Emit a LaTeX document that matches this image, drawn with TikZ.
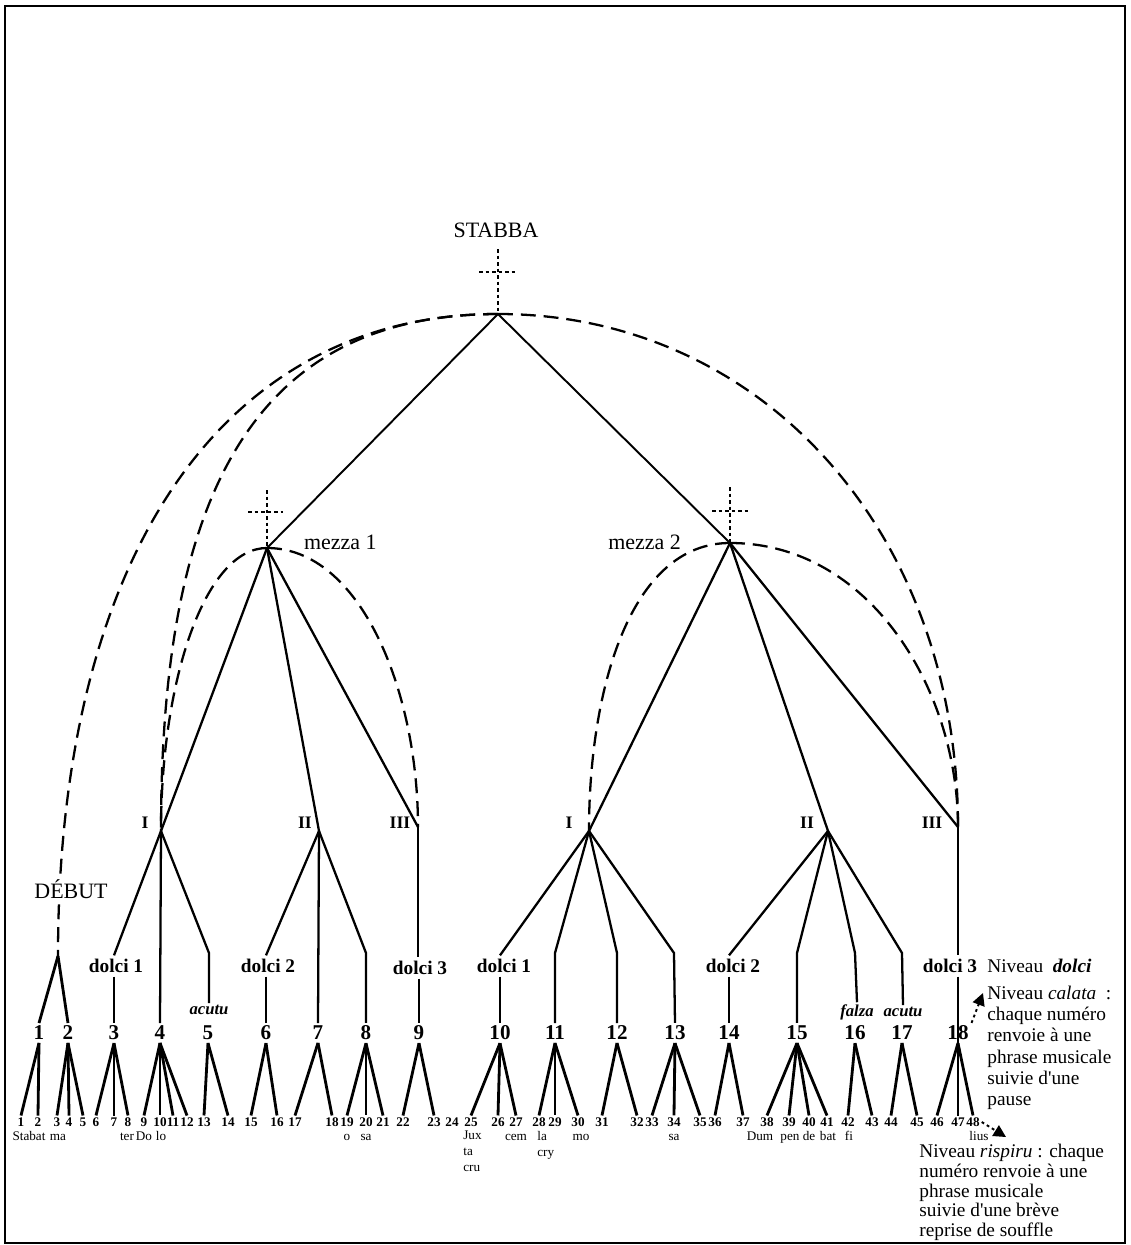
\documentclass[tikz,border=0pt]{standalone}
\usepackage{fontspec}
\setmainfont{Liberation Serif}
\usetikzlibrary{positioning,arrows.meta}
\tikzset{
  heading/.style={font=\fontsize{12.5}{14}\selectfont,inner sep=1pt},
  part/.style={font=\fontsize{10}{12}\selectfont\bfseries,inner sep=1pt},
  dolci/.style={font=\fontsize{11}{13}\selectfont\bfseries,inner sep=2pt},
  phrase/.style={font=\fontsize{12}{14}\selectfont\bfseries,inner sep=1.5pt},
  breath/.style={font=\fontsize{7.5}{8}\selectfont\bfseries,inner sep=1pt},
  syllable/.style={font=\fontsize{7.5}{9}\selectfont,inner sep=0pt,anchor=base},
  mode/.style={font=\fontsize{9.5}{11}\selectfont\bfseries\itshape,inner sep=1pt},
  note/.style={font=\fontsize{11}{12}\selectfont,align=left,inner sep=0pt},
  topline/.style={line width=1.1pt},
  midline/.style={line width=1.3pt},
  leafline/.style={line width=1.6pt},
  arcline/.style={line width=1.3pt,dash pattern=on 8.5pt off 4.5pt},
  crossline/.style={line width=1.1pt,dash pattern=on 2.2pt off 1.5pt},
  pointer/.style={line width=1.1pt,dash pattern=on 1.6pt off 1.8pt,-{Triangle[length=7pt,width=7pt]}},
  border/.style={line width=0.9pt}
}
\begin{document}
\begin{tikzpicture}[x=0.02cm,y=-0.02cm]
  \useasboundingbox (0,0) rectangle (1131,1245);
  \draw[border] (5,6) rectangle (1125,1243);

  % stabba and the two mezze
  \node[heading] (stabba) at (496,230) {STABBA};
  \coordinate (root) at (498,314);
  \coordinate (m1) at (267,548);
  \coordinate (m2) at (730,543);
  \node[heading,anchor=west] (mezza1) at (302,542) {mezza 1};
  \node[heading,anchor=east] (mezza2) at (683,542) {mezza 2};

  \coordinate (rootT) at (498,249);
  \coordinate (rootL) at (479,272);
  \coordinate (rootR) at (515,272);
  \coordinate (m1T) at (267,490);
  \coordinate (m1L) at (248,512);
  \coordinate (m1R) at (283,512);
  \coordinate (m2T) at (730,487);
  \coordinate (m2L) at (712,511);
  \coordinate (m2R) at (748,511);
  \draw[crossline] (rootT) -- (root);
  \draw[crossline] (rootL) -- (rootR);
  \draw[crossline] (m1T) -- (m1);
  \draw[crossline] (m1L) -- (m1R);
  \draw[crossline] (m2T) -- (m2);
  \draw[crossline] (m2L) -- (m2R);

  % sections I II III
  \coordinate (s1) at (161,831);
  \coordinate (s2) at (319,831);
  \coordinate (s3) at (418,827);
  \coordinate (s4) at (589,831);
  \coordinate (s5) at (828,831);
  \coordinate (s6) at (958,827);
  \node[part] (p1) at (145,823) {I};
  \node[part] (p2) at (305,823) {II};
  \node[part] (p3) at (400,823) {III};
  \node[part] (p4) at (569,823) {I};
  \node[part] (p5) at (807,823) {II};
  \node[part] (p6) at (932,823) {III};

  \draw[topline] (root) -- (m1);
  \draw[topline] (root) -- (m2);
  \draw[midline] (m1) -- (s1);
  \draw[midline] (m1) -- (s2);
  \draw[midline] (m1) -- (s3);
  \draw[midline] (m2) -- (s4);
  \draw[midline] (m2) -- (s5);
  \draw[midline] (m2) -- (s6);

  % dashed spans
  \coordinate (start) at (58,956);
  \draw[arcline] (root) .. controls (220,314) and (58,560) .. (start);
  \draw[arcline] (root) .. controls (250,314) and (161,500) .. (s1);
  \draw[arcline] (root) .. controls (760,314) and (958,530) .. (s6);
  \draw[arcline] (m1) .. controls (205,548) and (161,680) .. (s1);
  \draw[arcline] (m1) .. controls (360,548) and (418,690) .. (s3);
  \draw[arcline] (m2) .. controls (630,543) and (589,690) .. (s4);
  \draw[arcline] (m2) .. controls (870,543) and (958,690) .. (s6);
  \node[heading,fill=white,inner sep=2pt] (debut) at (71,889) {DÉBUT};

  % dolci level
  \node[dolci] (d1) at (116,966) {dolci 1};
  \node[dolci] (d2) at (268,966) {dolci 2};
  \node[dolci] (d3) at (420,968) {dolci 3};
  \node[dolci] (d4) at (504,966) {dolci 1};
  \node[dolci] (d5) at (733,966) {dolci 2};
  \node[dolci] (d6) at (950,966) {dolci 3};
  \node[mode] (ac1) at (209,1010) {acutu};
  \node[mode] (fa2) at (857,1012) {falza};
  \node[mode] (ac2) at (903,1012) {acutu};

  % calata level
  \foreach \x [count=\i] in {39,68,114,160,208,266,318,366,419,500,555,617,675,729,797,855,902,958}
    \node[phrase] (n\i) at (\x,1033) {\i};

  % rispiru level
  \foreach \x [count=\i] in {21,38,57,69,83,96,114,128,144,160,173,187,204,228,251,277,295,332,347,366,383,403,434,452,471,498,516,539,555,578,602,637,652,674,700,715,743,767,789,809,827,848,872,891,917,937,958,973}
    \node[breath] (l\i) at (\x,1122) {\i};

  \coordinate (b5) at (209,953);
  \coordinate (b8) at (366,953);
  \coordinate (b11) at (555,953);
  \coordinate (b12) at (617,953);
  \coordinate (b13) at (674,953);
  \coordinate (b15) at (797,953);
  \coordinate (b16) at (855,953);
  \coordinate (b17) at (902,953);

  \draw[midline] (s1) -- (n3 |- d1.north);
  \draw[midline] (s1) -- (n4.north);
  \draw[midline] (s1) -- (b5) -- (ac1.north);
  \draw[midline] (s2) -- (n6 |- d2.north);
  \draw[midline] (s2) -- (n7.north);
  \draw[midline] (s2) -- (b8) -- (n8.north);
  \draw[midline] (s3) -- (s3 |- d3.north);
  \draw[midline] (s4) -- (n10 |- d4.north);
  \draw[midline] (s4) -- (b11) -- (n11.north);
  \draw[midline] (s4) -- (b12) -- (n12.north);
  \draw[midline] (s4) -- (b13) -- (n13.north);
  \draw[midline] (s5) -- (n14 |- d5.north);
  \draw[midline] (s5) -- (b15) -- (n15.north);
  \draw[midline] (s5) -- (b16) -- (fa2.north);
  \draw[midline] (s5) -- (b17) -- (ac2.north);
  \draw[midline] (s6) -- (s6 |- d6.north);
  \draw[midline] (n3 |- d1.south) -- (n3.north);
  \draw[midline] (n6 |- d2.south) -- (n6.north);
  \draw[midline] (n9 |- d3.south) -- (n9.north);
  \draw[midline] (n10 |- d4.south) -- (n10.north);
  \draw[midline] (n14 |- d5.south) -- (n14.north);
  \draw[midline] (n18 |- d6.south) -- (n18.south);
  \draw[leafline] (start) -- (n1.north);
  \draw[leafline] (start) -- (n2.north);

  \foreach \p/\kids in {1/{1,2},2/{3,4,5},3/{6,7,8},4/{9,10,11,12},5/{13,14},6/{15,16},7/{17,18},8/{19,20,21},9/{22,23},10/{25,26,27},11/{28,29,30},12/{31,32},13/{33,34,35},14/{36,37},15/{38,39,40,41},16/{42,43},17/{44,45},18/{46,47,48}}
    \foreach \k in \kids
      \draw[leafline] (n\p.south) -- (l\k.north);

  % sung syllables
  \foreach \x/\s [count=\i] in {29/Stabat,58/ma,127/ter,144/Do,161/lo,347/o,366/sa,516/cem,581/mo,674/sa,760/Dum,790/pen,809/de,828/bat,849/fi,979/lius}
    \node[syllable] (sy\i) at (\x,1140) {\s};
  \node[syllable,anchor=north west,align=left] (syjux) at (463,1131) {Jux\\ta\\cru};
  \node[syllable,anchor=north west,align=left] (syla) at (537,1131) {la\\cry};

  % level notes
  \node[note,anchor=west] (nivdolci) at (987,966) {Niveau\ \ \textbf{\textit{dolci}}};
  \node[note,anchor=north west] (nivcalata) at (987,986) {Niveau \textit{calata}\ \ :\\chaque numéro\\renvoie à une\\phrase musicale\\suivie d\textquotesingle une\\pause};
  \node[note,anchor=north west,font=\fontsize{11}{11.2}\selectfont] (nivrispiru) at (919,1144) {Niveau\ \textit{rispiru}\ : chaque\\numéro renvoie à une\\phrase musicale\\suivie d\textquotesingle une brève\\reprise de souffle};
  \coordinate (calatatip) at (983,993);
  \coordinate (rispirutip) at (1006,1137);
  \draw[pointer] (n18.north east) -- (calatatip);
  \draw[pointer] (l48.east) -- (rispirutip);
\end{tikzpicture}
\end{document}
